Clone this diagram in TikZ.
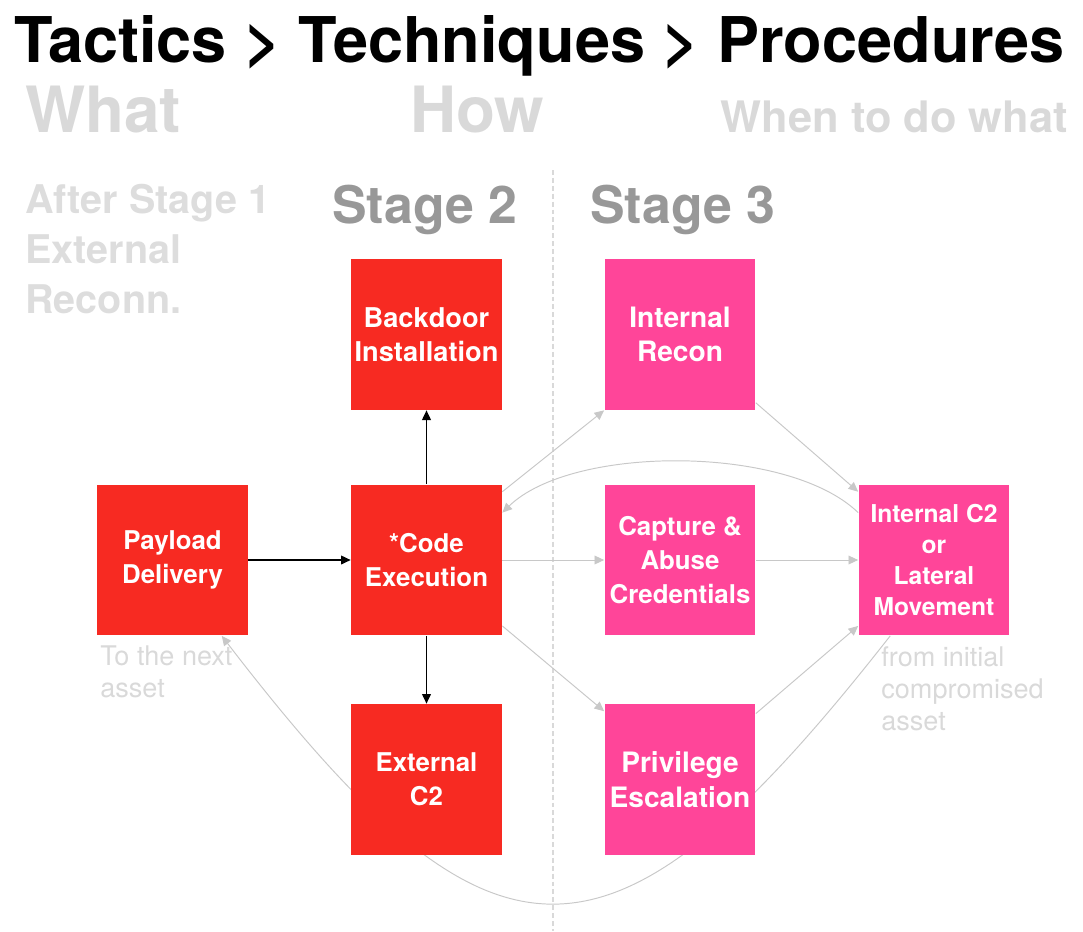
\documentclass[tikz,border=0pt]{standalone}
\usepackage{fontspec}
\setmainfont{TeX Gyre Heros}
\usepackage{tikz}
\usetikzlibrary{arrows.meta,positioning,backgrounds}
\usepackage{xcolor}
\definecolor{ttpred}{HTML}{F72A22}
\definecolor{ttppink}{HTML}{FF4599}
\definecolor{ttpgray}{HTML}{D9D9D9}
\definecolor{stagegray}{HTML}{989898}
\definecolor{linegray}{HTML}{C8C8C8}
\tikzset{
  stagebox/.style={minimum width=3.02cm,minimum height=3.02cm,inner sep=0pt,align=center,text=white,
    font=\fontsize{14.7}{19.3}\selectfont\bfseries},
  redbox/.style={stagebox,fill=ttpred},
  pinkbox/.style={stagebox,fill=ttppink},
  bigtext/.style={font=\fontsize{16}{19.6}\selectfont\bfseries},
  flow/.style={-{Triangle[length=5.5pt,width=5pt]},line width=0.8pt,black},
  soft/.style={-{Triangle[length=5.5pt,width=5pt]},line width=0.55pt,linegray},
  note/.style={anchor=base west,inner sep=0pt,align=left,text=ttpgray,font=\fontsize{15.4}{18.1}\selectfont},
  heading/.style={anchor=base west,inner sep=0pt,align=left,font=\bfseries},
}

\begin{document}
\begin{tikzpicture}[x=0.02cm,y=-0.02cm]
\useasboundingbox (0,0) rectangle (1083,931);
% headings
\node[heading,font=\fontsize{35.9}{40}\selectfont\bfseries] (title) at (14,62) {Tactics > Techniques > Procedures};
\node[heading,text=ttpgray,font=\fontsize{36.3}{40}\selectfont\bfseries] (what) at (25,132) {What};
\node[heading,text=ttpgray,font=\fontsize{36.3}{40}\selectfont\bfseries] (how) at (410,132) {How};
\node[heading,anchor=base east,text=ttpgray,font=\fontsize{24.7}{28}\selectfont\bfseries] (when) at (1068,132) {When to do what};
% base of a multi-line node sits on its last line
\node[heading,text=ttpgray!90,font=\fontsize{22.5}{28.3}\selectfont\bfseries] (stage1) at (25,313) {After Stage 1\\External\\Reconn.};
\node[heading,text=stagegray,font=\fontsize{29.5}{32}\selectfont\bfseries] (stage2) at (332,223) {Stage 2};
\node[heading,text=stagegray,font=\fontsize{29.5}{32}\selectfont\bfseries] (stage3) at (590,223) {Stage 3};
\draw[ttpgray,line width=0.85pt,dash pattern=on 2.8pt off 1.7pt] (553,170) -- (553,931);

% stage 2
\node[redbox] (pay) at (172.5,560) {Payload\\Delivery};
\node[redbox] (code) at (426.5,560) {*Code\\Execution};
\node[redbox,font=\fontsize{15.5}{19.3}\selectfont\bfseries] (back) at (426.5,334.5) {Backdoor\\Installation};
\node[redbox] (ext) at (426.5,779.5) {External\\C2};
% stage 3
\node[pinkbox,bigtext] (recon) at (680,334.5) {Internal\\Recon};
\node[pinkbox] (cred) at (680,560) {Capture \&\\Abuse\\Credentials};
\node[pinkbox,bigtext] (priv) at (680,779.5) {Privilege\\Escalation};
\node[pinkbox,font=\fontsize{14}{17.6}\selectfont\bfseries] (ic2) at (934,560) {Internal C2\\or\\Lateral\\Movement};

\node[note] (next) at (100,697) {To the next\\asset};
\node[note] (initial) at (881,730) {from initial\\compromised\\asset};

\draw[flow] (pay) -- (code);
\draw[flow] (code) -- (back);
\draw[flow] (code) -- (ext);
\draw[soft] (code) -- (cred);
\draw[soft] (cred) -- (ic2);
\draw[soft] (code.42) -- (recon.-135);
\draw[soft] (recon.-42) -- (ic2.138);
\draw[soft] (code.-41) -- (priv.138);
\draw[soft] (priv.41) -- (ic2.-139);
\draw[soft] (ic2.148) .. controls +(-70,-68) and +(70,-68) .. (code.32);
\begin{scope}[on background layer]
\draw[soft] (ic2.-120) .. controls +(-281,359) and +(272,354) .. (pay.-57);
\end{scope}
\end{tikzpicture}
\end{document}
